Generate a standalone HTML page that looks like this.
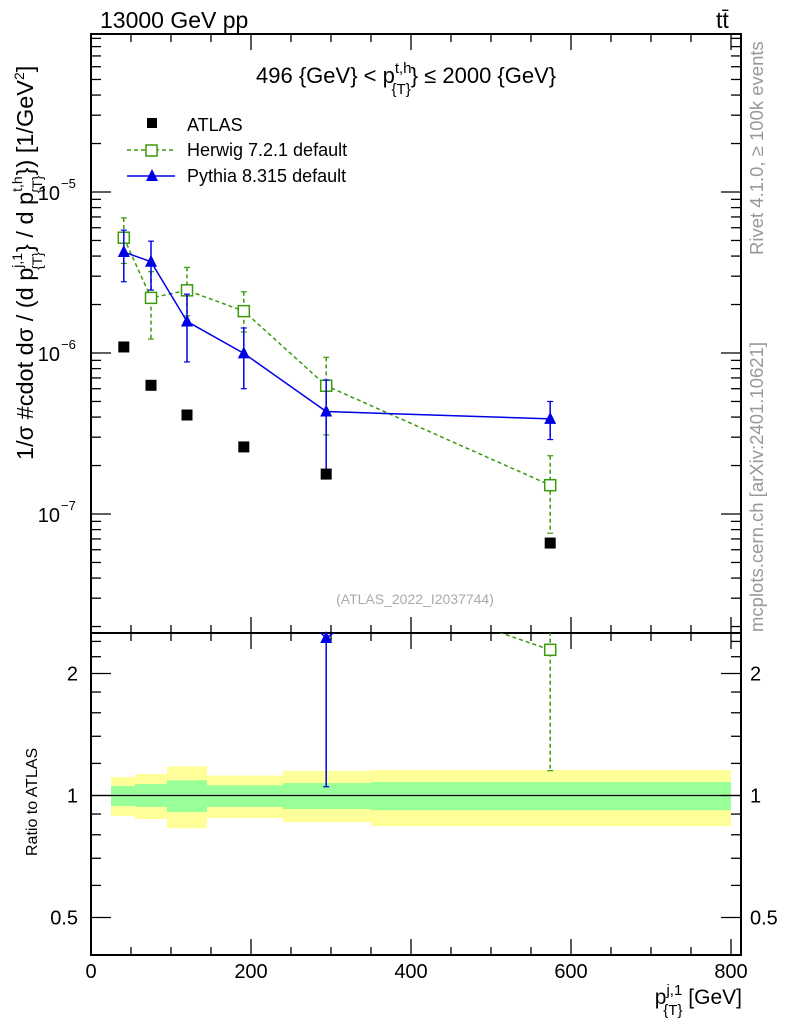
<!DOCTYPE html>
<html><head><meta charset="utf-8"><style>
html,body{margin:0;padding:0;background:#fff;}
svg{display:block;font-family:"Liberation Sans",sans-serif;}
</style></head><body>
<svg id="chart" width="786" height="1024" viewBox="0 0 786 1024" xmlns="http://www.w3.org/2000/svg">
<g id="bands"></g>
<g id="axes"></g>
<g id="marks"></g>
<text x="100" y="28" font-size="23">13000 GeV pp</text>
<text x="716" y="28" font-size="23">tt̄</text>
<text x="256" y="83" font-size="22">496 {GeV} &lt; p<tspan dy="-10" font-size="15">t,h</tspan><tspan dx="-20" dy="21" font-size="15">{T}</tspan><tspan dy="-11">} ≤ 2000 {GeV}</tspan></text>
<g>
<g><rect x="147" y="118" width="10" height="10" fill="#000"/><text x="187" y="131" font-size="18">ATLAS</text></g>
<g><line x1="127" y1="150" x2="175" y2="150" stroke="#3a9a0a" stroke-width="1.5" stroke-dasharray="4,3"/><rect x="146" y="145" width="11" height="11" fill="#fff" stroke="#3a9a0a" stroke-width="1.5"/><text x="187" y="156" font-size="18">Herwig 7.2.1 default</text></g>
<g><line x1="127" y1="176" x2="175" y2="176" stroke="#0000e6" stroke-width="1.5"/><polygon points="152,169 146,181 158,181" fill="#0000e6"/><text x="187" y="182" font-size="18">Pythia 8.315 default</text></g>
</g>
<text x="415" y="604" font-size="14" fill="#aaa" text-anchor="middle">(ATLAS_2022_I2037744)</text>
<text transform="translate(763,255) rotate(-90)" font-size="18.5" fill="#999">Rivet 4.1.0, ≥ 100k events</text>
<text transform="translate(763,632) rotate(-90)" font-size="18.5" fill="#999">mcplots.cern.ch [arXiv:2401.10621]</text>
<text transform="translate(33,460) rotate(-90)" font-size="23.5">1/σ #cdot dσ / (d p<tspan dy="-11" font-size="14">j,1</tspan><tspan dx="-17" dy="20" font-size="14">{T}</tspan><tspan dy="-9">} / d p</tspan><tspan dy="-11" font-size="14">t,h</tspan><tspan dx="-17" dy="20" font-size="14">{T}</tspan><tspan dy="-9">}) [1/GeV</tspan><tspan dy="-9" font-size="14">2</tspan><tspan dy="9">]</tspan></text>
<text transform="translate(37,856) rotate(-90)" font-size="16">Ratio to ATLAS</text>
<text x="742" y="1004" font-size="21" text-anchor="end">p<tspan dy="-9" font-size="15">j,1</tspan><tspan dx="-19" dy="20" font-size="15">{T}</tspan><tspan dy="-11"> [GeV]</tspan></text>
</svg>
<script>
const xCenters=[41,75,120,191,294,574];
const atlasVals=[1.09e-6,6.3e-7,4.12e-7,2.61e-7,1.77e-7,6.6e-8];
const herwigVals=[5.2e-6,2.2e-6,2.45e-6,1.82e-6,6.26e-7,1.51e-7];
const herwigUp=[6.9e-6,3.2e-6,3.4e-6,2.4e-6,9.4e-7,2.3e-7];
const herwigDn=[3.6e-6,1.22e-6,1.7e-6,1.35e-6,3.1e-7,7.6e-8];
const pythiaVals=[4.24e-6,3.69e-6,1.57e-6,9.95e-7,4.33e-7,3.9e-7];
const pythiaUp=[5.8e-6,4.95e-6,2.32e-6,1.43e-6,6.8e-7,5.0e-7];
const pythiaDn=[2.77e-6,2.46e-6,8.8e-7,6.0e-7,1.86e-7,2.9e-7];
const binEdges=[25,55,95,145,240,350,800];
const band1Up=[1.055,1.067,1.09,1.06,1.073,1.08];
const band1Dn=[0.942,0.937,0.91,0.937,0.926,0.92];
const band2Up=[1.11,1.13,1.18,1.12,1.15,1.155];
const band2Dn=[0.89,0.875,0.83,0.88,0.86,0.84];
const xTicks=[0,200,400,600,800];
const yTicks=[-7,-6,-5];
const ratioTicks=[0.5,1,2];

const NS="http://www.w3.org/2000/svg";
const L=91,R=741,T=34,MB=633,RB=955;
const RMAX=2.55;
const X=v=>91+v*0.8;
const Y=v=>353-(Math.log10(v)+6)*161;
const RY=v=>795.5-Math.log2(v)*122;
function mk(tag,attrs,parent){const e=document.createElementNS(NS,tag);for(const k in attrs)e.setAttribute(k,attrs[k]);parent.appendChild(e);return e;}
const ax=document.getElementById('axes'),mg=document.getElementById('marks'),bg=document.getElementById('bands');

for(let i=0;i<band2Up.length;i++){
  const x1=X(binEdges[i]),x2=X(binEdges[i+1]);
  const r=mk('rect',{x:x1,y:RY(band2Up[i]),width:x2-x1,height:RY(band2Dn[i])-RY(band2Up[i]),fill:'#ffff99'},bg);
  
  
  const g=mk('rect',{x:x1,y:RY(band1Up[i]),width:x2-x1,height:RY(band1Dn[i])-RY(band1Up[i]),fill:'#99ff99'},bg);
  
  
}
const one=mk('line',{x1:L,x2:R,y1:RY(1),y2:RY(1),stroke:'#000','stroke-width':1.2},bg);



const f1=mk('rect',{x:L,y:T,width:R-L,height:MB-T,fill:'none',stroke:'#000','stroke-width':2},ax);


const f2=mk('rect',{x:L,y:MB,width:R-L,height:RB-MB,fill:'none',stroke:'#000','stroke-width':2},ax);


for(let v=0;v<=800;v+=50){
  const x=X(v),len=v%200===0?16:8;
  [[T,1],[MB,-1],[MB,1],[RB,-1]].forEach(([y,d])=>mk('line',{x1:x,x2:x,y1:y,y2:y+d*len,stroke:'#000','stroke-width':1.3},ax));
}
xTicks.forEach(v=>{const t=mk('text',{x:X(v),y:978,'font-size':20,'text-anchor':'middle'},ax);t.textContent=v;

});
for(let d=-8;d<=-4;d++){for(let m=1;m<10;m++){const y=Y(m*Math.pow(10,d));if(y<T||y>MB)continue;const len=m===1?20:10;
mk('line',{x1:L,x2:L+len,y1:y,y2:y,stroke:'#000','stroke-width':1.3},ax);mk('line',{x1:R,x2:R-len,y1:y,y2:y,stroke:'#000','stroke-width':1.3},ax);}}
yTicks.forEach(e=>{const t=mk('text',{x:60,y:Y(Math.pow(10,e))+8,'font-size':20,'text-anchor':'end'},ax);t.textContent='10';


const s=mk('text',{x:61,y:Y(Math.pow(10,e))-4,'font-size':13},ax);s.textContent='−'+(-e);});
[0.5,0.6,0.7,0.8,0.9,1,1.2,1.4,1.6,1.8,2,2.2,2.4].forEach(v=>{const y=RY(v),len=ratioTicks.includes(v)?20:10;
mk('line',{x1:L,x2:L+len,y1:y,y2:y,stroke:'#000','stroke-width':1.3},ax);mk('line',{x1:R,x2:R-len,y1:y,y2:y,stroke:'#000','stroke-width':1.3},ax);});
ratioTicks.forEach(v=>{[[78,'end'],[750,'start']].forEach(([x,a])=>{const t=mk('text',{x:x,y:RY(v)+7,'font-size':20,'text-anchor':a},ax);t.textContent=v;

});});

const defs=mk('defs',{},document.getElementById('chart'));
const c1=mk('clipPath',{id:'cm'},defs);mk('rect',{x:L,y:T,width:R-L,height:MB-T},c1);
const c2=mk('clipPath',{id:'cr'},defs);mk('rect',{x:L,y:MB,width:R-L,height:RB-MB},c2);
const c3=mk('clipPath',{id:'cr2'},defs);mk('rect',{x:L,y:MB-8,width:R-L,height:RB-MB+8},c3);
const gm=mk('g',{'clip-path':'url(#cm)'},mg),gr=mk('g',{'clip-path':'url(#cr)'},mg),grm=mk('g',{'clip-path':'url(#cr2)'},mg);

function series(g,gMark,vals,up,dn,yf,color,dash,marker,name,limit){
  const pts=xCenters.map((x,i)=>X(x)+','+yf(vals[i])).join(' ');
  const pl=mk('polyline',{points:pts,fill:'none',stroke:color,'stroke-width':1.5,'stroke-dasharray':dash},g);
  
  
  xCenters.forEach((xv,i)=>{
    if(limit&&vals[i]>limit)return;
    const x=X(xv),y=yf(vals[i]);
    const y1=yf(up[i]),y2=yf(dn[i]);
    mk('line',{x1:x,x2:x,y1:y1,y2:y2,stroke:color,'stroke-width':1.5,'stroke-dasharray':dash},g);
    mk('line',{x1:x-3,x2:x+3,y1:y1,y2:y1,stroke:color,'stroke-width':1.2},g);
    mk('line',{x1:x-3,x2:x+3,y1:y2,y2:y2,stroke:color,'stroke-width':1.2},g);
    let m;
    if(marker==='sq')m=mk('rect',{x:x-5.5,y:y-5.5,width:11,height:11,fill:'#fff',stroke:color,'stroke-width':1.5},gMark);
    else m=mk('polygon',{points:`${x},${y-7} ${x-6},${y+5} ${x+6},${y+5}`,fill:color},gMark);
    
    
  });
}
series(gm,gm,herwigVals,herwigUp,herwigDn,Y,'#3a9a0a','4,3','sq','herwig',0);
series(gm,gm,pythiaVals,pythiaUp,pythiaDn,Y,'#0000e6','none','tri','pythia',0);
xCenters.forEach((xv,i)=>{const r=mk('rect',{x:X(xv)-5.5,y:Y(atlasVals[i])-5.5,width:11,height:11,fill:'#000'},gm);

});
const rat=(a)=>a.map((v,i)=>v/atlasVals[i]);
series(gr,grm,rat(herwigVals),rat(herwigUp),rat(herwigDn),v=>RY(v),'#3a9a0a','4,3','sq','herwig-ratio',RMAX);
series(gr,grm,rat(pythiaVals),rat(pythiaUp),rat(pythiaDn),v=>RY(v),'#0000e6','none','tri','pythia-ratio',RMAX);
</script>
</body></html>
